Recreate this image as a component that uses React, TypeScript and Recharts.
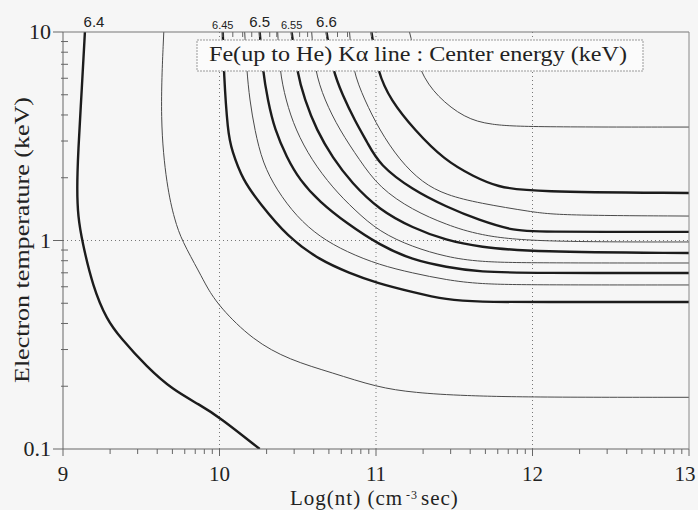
import { LineChart, Line, XAxis, YAxis, ReferenceLine } from 'recharts';

// contour lines of the Fe K-alpha centre energy: [log(nt), kT keV]
const c6400 = [[9.14, 10], [9.121, 5.45], [9.096, 2.63], [9.089, 1.75], [9.096, 1.3], [9.121, 1.0], [9.191, 0.598], [9.281, 0.416], [9.364, 0.344], [9.536, 0.247], [9.702, 0.192], [9.874, 0.163], [10.0, 0.142], [10.257, 0.1]];
const c6425 = [[9.644, 10], [9.619, 3.78], [9.663, 1.81], [9.714, 1.25], [9.759, 1.0], [9.874, 0.698], [9.919, 0.598], [10.0, 0.48], [10.212, 0.333], [10.448, 0.267], [10.722, 0.232], [11.003, 0.198], [11.246, 0.186], [11.565, 0.18], [12.005, 0.177], [13, 0.177]];
const c6450 = [[10.021, 10], [10.027, 6.43], [10.053, 3.28], [10.078, 2.72], [10.148, 1.95], [10.257, 1.51], [10.435, 1.04], [10.64, 0.806], [10.831, 0.698], [11.003, 0.626], [11.233, 0.566], [11.45, 0.519], [11.66, 0.507], [12.005, 0.507], [13, 0.507]];
const c6475 = [[10.161, 10], [10.174, 6.57], [10.193, 4.72], [10.225, 3.39], [10.276, 2.35], [10.365, 1.75], [10.493, 1.3], [10.64, 1.04], [10.812, 0.881], [11.022, 0.763], [11.233, 0.698], [11.45, 0.647], [11.66, 0.618], [11.998, 0.612], [13, 0.612]];
const c6500 = [[10.257, 10], [10.276, 6.57], [10.308, 4.72], [10.353, 3.39], [10.429, 2.51], [10.512, 1.95], [10.64, 1.53], [10.812, 1.21], [11.022, 0.951], [11.233, 0.806], [11.45, 0.746], [11.66, 0.706], [11.998, 0.698], [13, 0.698]];
const c6525 = [[10.372, 10], [10.384, 6.57], [10.423, 4.72], [10.486, 3.39], [10.589, 2.43], [10.723, 1.79], [10.863, 1.4], [11.022, 1.1], [11.233, 0.931], [11.45, 0.834], [11.66, 0.789], [11.998, 0.78], [13, 0.78]];
const c6550 = [[10.461, 10], [10.493, 6.57], [10.544, 4.72], [10.62, 3.39], [10.723, 2.49], [10.844, 1.89], [11.022, 1.4], [11.233, 1.15], [11.45, 1.0], [11.66, 0.931], [11.998, 0.881], [13, 0.871]];
const c6575 = [[10.589, 10], [10.608, 6.57], [10.671, 4.72], [10.767, 3.39], [10.895, 2.43], [11.022, 1.79], [11.233, 1.4], [11.45, 1.19], [11.66, 1.06], [11.998, 0.984], [13, 0.984]];
const c6600 = [[10.684, 10], [10.723, 6.57], [10.786, 4.99], [10.863, 3.78], [10.946, 2.94], [11.022, 2.3], [11.233, 1.75], [11.45, 1.45], [11.66, 1.25], [11.871, 1.12], [11.998, 1.1], [13, 1.1]];
const c6625 = [[10.831, 10], [10.85, 6.57], [10.927, 4.72], [11.022, 3.39], [11.15, 2.43], [11.297, 1.89], [11.45, 1.65], [11.66, 1.51], [11.998, 1.37], [12.171, 1.32], [13, 1.31]];
const c6650 = [[10.971, 10], [11.01, 6.43], [11.093, 4.72], [11.246, 3.39], [11.437, 2.43], [11.628, 2.02], [11.775, 1.81], [11.986, 1.71], [13, 1.69]];
const c6675 = [[11.214, 10], [11.278, 6.43], [11.392, 4.88], [11.565, 3.87], [11.73, 3.58], [11.986, 3.5], [13, 3.5]];

const thickLines = [c6400, c6450, c6500, c6550, c6600, c6650];
const thinLines = [c6425, c6475, c6525, c6575, c6625, c6675];

// axes
const xMajor = [9, 10, 11, 12, 13];
const logOffsets = [0.301, 0.477, 0.602, 0.699, 0.778, 0.845, 0.903, 0.954];
const xTicks = [...xMajor, ...[9, 10, 11, 12].flatMap((d) => logOffsets.map((o) => d + o))];
const yMajor = [0.1, 1, 10];
const yMinor = [0.2, 0.3, 0.4, 0.5, 0.6, 0.7, 0.8, 0.9, 2, 3, 4, 5, 6, 7, 8, 9];
const yTicks = [...yMajor, ...yMinor];
const xGrid = [10, 11, 12];

// contour labels along the top edge
const topLabelAt = [9.198, 10.021, 10.257, 10.461, 10.684];
const topLabels = ['6.4', '6.45', '6.5', '6.55', '6.6'];
const topLabelBig = [true, false, true, false, true];
const topMinor = [10.085, 10.148, 10.206, 10.321, 10.366, 10.512, 10.563, 10.754, 10.818, 10.971];
const topTicks = [...topLabelAt, ...topMinor];

const serif = '"Liberation Serif", "Times New Roman", serif';
const sans = '"Liberation Sans", Arial, sans-serif';
const ink = '#222';

const toPts = (arr: number[][]) => arr.map(([n, t]) => ({ n, t }));

function BottomTick({ x, y, payload }: any) {
  const v = payload.value;
  const major = xMajor.some((m) => Math.abs(m - v) < 1e-6);
  // last label sits against the right edge in the original
  const lx = v === 13 ? x - 4 : x;
  return (
    <g>
      <line x1={x} x2={x} y1={y} y2={y + (major ? 7 : 5)} stroke="#666" strokeWidth={1} />
      {major && (
        <text x={lx} y={y + 32} textAnchor="middle" fontFamily={serif} fontSize={21} fill={ink}>
          {v}
        </text>
      )}
    </g>
  );
}

function LeftTick({ x, y, payload }: any) {
  const v = payload.value;
  const major = yMajor.some((m) => Math.abs(m - v) < 1e-9);
  return (
    <g>
      {major ? (
        <line x1={x - 10} x2={x} y1={y} y2={y} stroke="#666" strokeWidth={1} />
      ) : (
        <line x1={x - 2} x2={x + 5} y1={y} y2={y} stroke="#666" strokeWidth={1} />
      )}
      {major && (
        <text x={x - 12} y={y + 7} textAnchor="end" fontFamily={serif} fontSize={22} fill={ink}>
          {v}
        </text>
      )}
    </g>
  );
}

function TopTick({ x, y, payload }: any) {
  const v = payload.value;
  const i = topLabelAt.findIndex((m) => Math.abs(m - v) < 1e-6);
  return (
    <g>
      {i !== 0 && <line x1={x} x2={x} y1={y} y2={y + 5} stroke="#666" strokeWidth={1} />}
      {i >= 0 && (
        <text
          x={x}
          y={y + (topLabelBig[i] ? -5 : -3)}
          textAnchor="middle"
          fontFamily={sans}
          fontSize={topLabelBig[i] ? 15 : 11}
          fill={ink}
        >
          {topLabels[i]}
        </text>
      )}
    </g>
  );
}

export default function App() {
  return (
    <div style={{ position: 'absolute', left: 0, top: 0, width: 698, height: 510, background: '#f6f6f6' }}>
      <LineChart width={698} height={510} margin={{ top: 31, right: 8, bottom: 0, left: 0 }}>
        <XAxis
          xAxisId="b"
          dataKey="n"
          type="number"
          domain={[9, 13]}
          allowDataOverflow
          ticks={xTicks}
          interval={0}
          height={61}
          tickSize={0}
          tickMargin={0}
          tickLine={false}
          tick={(p: any) => <BottomTick {...p} />}
          axisLine={{ stroke: '#666' }}
        />
        <XAxis
          xAxisId="t"
          orientation="top"
          dataKey="n"
          type="number"
          domain={[9, 13]}
          allowDataOverflow
          ticks={topTicks}
          interval={0}
          height={1}
          tickSize={0}
          tickMargin={0}
          tickLine={false}
          tick={(p: any) => <TopTick {...p} />}
          axisLine={{ stroke: '#777' }}
        />
        <YAxis
          yAxisId="l"
          dataKey="t"
          type="number"
          scale="log"
          domain={[0.1, 10]}
          allowDataOverflow
          ticks={yTicks}
          interval={0}
          width={63}
          tickSize={0}
          tickMargin={0}
          tickLine={false}
          tick={(p: any) => <LeftTick {...p} />}
          axisLine={{ stroke: '#666' }}
        />
        <YAxis
          yAxisId="r"
          orientation="right"
          type="number"
          scale="log"
          domain={[0.1, 10]}
          allowDataOverflow
          width={1}
          tick={false}
          tickLine={false}
          axisLine={{ stroke: '#888' }}
        />
        {xGrid.map((g) => (
          <ReferenceLine key={g} xAxisId="b" yAxisId="l" x={g} stroke="#777" strokeDasharray="1 3" />
        ))}
        <ReferenceLine xAxisId="b" yAxisId="l" y={1} stroke="#777" strokeDasharray="1 3" />
        {/* thin contours hang on the top axis (same scale) so it gets its ticks */}
        {thinLines.map((c, i) => (
          <Line
            key={'thin' + i}
            xAxisId="t"
            yAxisId="l"
            data={toPts(c)}
            dataKey="t"
            type="basis"
            stroke="#4a4a4a"
            strokeWidth={1}
            dot={false}
            isAnimationActive={false}
          />
        ))}
        {thickLines.map((c, i) => (
          <Line
            key={'thick' + i}
            xAxisId="b"
            yAxisId="l"
            data={toPts(c)}
            dataKey="t"
            type="basis"
            stroke="#1c1c1c"
            strokeWidth={2.4}
            dot={false}
            isAnimationActive={false}
          />
        ))}
      </LineChart>
      <svg
        width={698}
        height={510}
        style={{ position: 'absolute', left: 0, top: 0, pointerEvents: 'none' }}
      >
        <rect x={197} y={40} width={446} height={31} fill="#fbfbfb" stroke="#999" strokeDasharray="2 1" />
        <text x={209} y={61} fontFamily={serif} fontSize={22} fill={ink} textLength={418} lengthAdjust="spacingAndGlyphs">
          Fe(up to He) Kα line : Center energy (keV)
        </text>
        <text
          transform="translate(29,240) rotate(-90)"
          textAnchor="middle"
          fontFamily={serif}
          fontSize={22}
          fill={ink}
          textLength={286}
          lengthAdjust="spacingAndGlyphs"
        >
          Electron temperature (keV)
        </text>
        <text x={290} y={505} fontFamily={serif} fontSize={21} fill={ink} letterSpacing={1}>
          Log(nt) (cm
          <tspan fontSize={12} dx={3} dy={-6}>-3</tspan>
          <tspan dx={3} dy={6}>sec)</tspan>
        </text>
      </svg>
    </div>
  );
}
